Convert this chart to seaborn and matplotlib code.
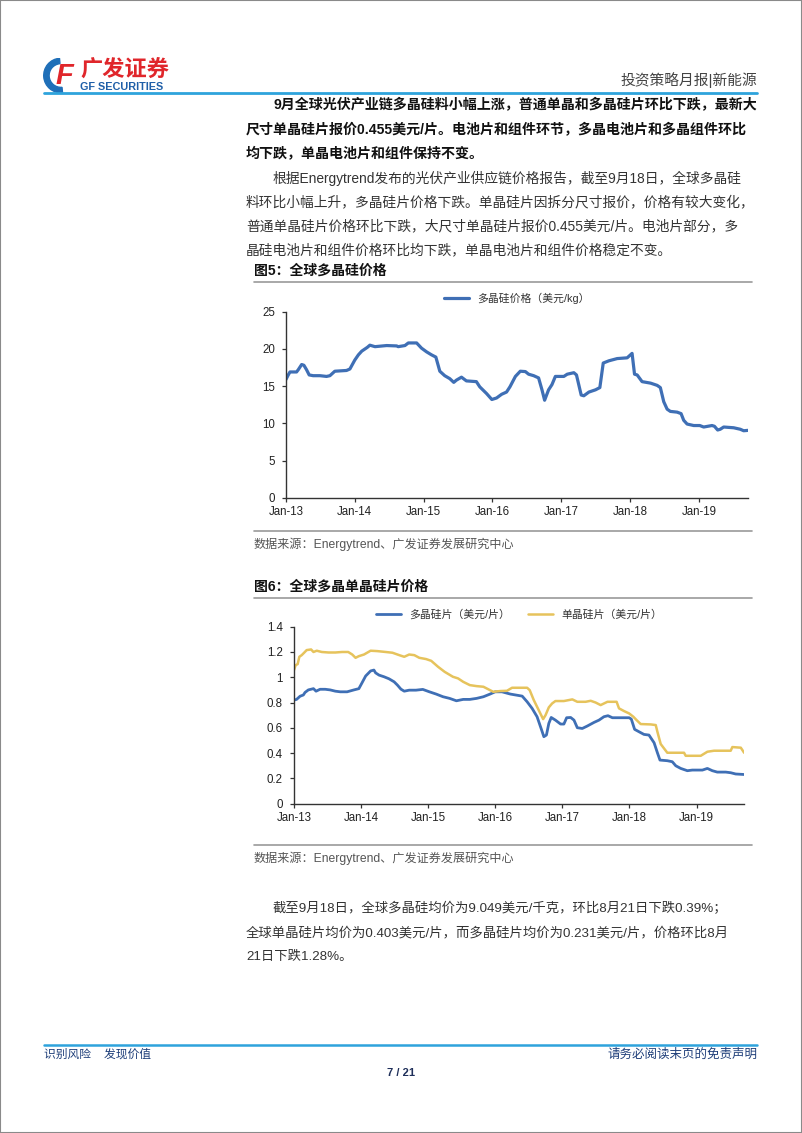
import pandas as pd
import matplotlib
matplotlib.use('Agg')
import matplotlib.pyplot as plt
import matplotlib.patches as mpatches
import seaborn as sns

# ---------- data read from the page ----------
poly_dates = ['2013-01-01', '2013-01-13', '2013-01-22', '2013-02-26', '2013-03-07', '2013-03-25',
              '2013-04-06', '2013-04-20', '2013-05-04', '2013-05-25', '2013-06-30', '2013-08-04',
              '2013-08-22', '2013-09-17', '2013-11-18', '2013-12-06', '2014-01-01', '2014-01-20',
              '2014-02-07', '2014-03-08', '2014-03-22', '2014-04-18', '2014-06-19', '2014-08-11',
              '2014-08-19', '2014-09-24', '2014-10-12', '2014-11-25', '2014-12-21', '2015-01-17',
              '2015-02-12', '2015-03-07', '2015-03-28', '2015-04-23', '2015-05-20', '2015-06-10',
              '2015-06-24', '2015-07-21', '2015-08-16', '2015-10-08', '2015-10-26', '2015-12-01',
              '2015-12-29', '2016-01-23', '2016-02-19', '2016-03-16', '2016-04-03', '2016-05-02',
              '2016-05-28', '2016-06-24', '2016-07-11', '2016-08-07', '2016-09-02', '2016-09-20',
              '2016-10-04', '2016-10-25', '2016-11-12', '2016-11-30', '2017-01-14', '2017-02-01',
              '2017-03-08', '2017-03-22', '2017-04-16', '2017-04-30', '2017-05-27', '2017-07-01',
              '2017-07-24', '2017-08-11', '2017-09-10', '2017-10-24', '2017-12-16', '2018-01-11',
              '2018-01-24', '2018-02-07', '2018-03-05', '2018-04-19', '2018-05-24', '2018-06-10',
              '2018-06-28', '2018-07-16', '2018-08-02', '2018-09-07', '2018-09-28', '2018-10-12',
              '2018-10-30', '2018-12-04', '2019-01-05', '2019-01-26', '2019-03-11', '2019-03-24',
              '2019-04-10', '2019-04-24', '2019-05-12', '2019-07-04', '2019-08-08', '2019-08-26',
              '2019-09-18']
poly_price = [15.9, 16.5, 16.9, 16.9, 17.2, 17.9, 17.8, 17.2, 16.5, 16.4, 16.4, 16.3,
              16.4, 17.0, 17.1, 17.3, 18.5, 19.2, 19.7, 20.2, 20.5, 20.3, 20.45, 20.4,
              20.3, 20.45, 20.8, 20.8, 20.1, 19.6, 19.2, 18.9, 17.0, 16.4, 16.0, 15.5,
              15.8, 16.2, 15.7, 15.6, 14.9, 14.0, 13.2, 13.4, 13.9, 14.2, 14.9, 16.3,
              17.0, 16.95, 16.6, 16.4, 16.1, 14.5, 13.1, 14.5, 15.2, 16.3, 16.3, 16.6,
              16.8, 16.5, 13.8, 13.7, 14.2, 14.5, 14.8, 18.1, 18.4, 18.7, 18.8, 19.4,
              16.6, 16.5, 15.6, 15.4, 15.1, 14.8, 12.9, 11.9, 11.6, 11.5, 11.3, 10.4,
              9.9, 9.7, 9.7, 9.5, 9.7, 9.6, 9.1, 9.2, 9.5, 9.4, 9.2, 9.0, 9.05]

multi_dates = ['2013-01-01', '2013-01-15', '2013-02-03', '2013-02-21', '2013-03-02', '2013-03-20',
               '2013-04-17', '2013-05-01', '2013-05-23', '2013-06-20', '2013-07-17', '2013-08-14',
               '2013-09-10', '2013-10-17', '2013-11-23', '2013-12-20', '2014-01-04', '2014-01-26',
               '2014-02-22', '2014-03-12', '2014-03-21', '2014-04-09', '2014-05-06', '2014-06-02',
               '2014-06-30', '2014-07-18', '2014-08-06', '2014-08-24', '2014-09-20', '2014-10-27',
               '2014-12-03', '2015-01-08', '2015-02-14', '2015-03-23', '2015-04-28', '2015-06-04',
               '2015-07-11', '2015-08-16', '2015-09-22', '2015-10-29', '2015-12-04', '2016-01-01',
               '2016-02-07', '2016-03-24', '2016-05-27', '2016-06-23', '2016-07-20', '2016-08-16',
               '2016-09-07', '2016-09-22', '2016-10-06', '2016-10-19', '2016-11-01', '2016-11-24',
               '2016-12-22', '2017-01-09', '2017-01-24', '2017-02-15', '2017-03-05', '2017-03-23',
               '2017-04-19', '2017-05-16', '2017-06-22', '2017-07-19', '2017-08-15', '2017-09-06',
               '2017-09-30', '2017-11-14', '2017-12-30', '2018-01-11', '2018-01-29', '2018-02-22',
               '2018-03-21', '2018-04-17', '2018-05-15', '2018-06-02', '2018-06-16', '2018-07-26',
               '2018-08-22', '2018-09-10', '2018-10-07', '2018-11-12', '2018-12-09', '2019-02-02',
               '2019-03-01', '2019-03-28', '2019-04-24', '2019-06-09', '2019-07-06', '2019-08-02',
               '2019-09-17']
multi_wafer = [0.82, 0.825, 0.85, 0.86, 0.88, 0.90, 0.91, 0.89, 0.905, 0.905, 0.90, 0.89,
               0.885, 0.885, 0.90, 0.91, 0.95, 1.01, 1.05, 1.057, 1.035, 1.017, 1.004, 0.988,
               0.964, 0.938, 0.906, 0.89, 0.898, 0.898, 0.904, 0.885, 0.867, 0.846, 0.833, 0.814,
               0.825, 0.825, 0.833, 0.846, 0.867, 0.885, 0.885, 0.867, 0.851, 0.806, 0.754, 0.688,
               0.595, 0.53, 0.543, 0.635, 0.682, 0.661, 0.63, 0.63, 0.68, 0.682, 0.661, 0.601,
               0.595, 0.614, 0.643, 0.661, 0.688, 0.696, 0.68, 0.68, 0.68, 0.669, 0.588, 0.569,
               0.548, 0.543, 0.482, 0.403, 0.345, 0.34, 0.332, 0.30, 0.279, 0.261, 0.266, 0.266,
               0.279, 0.261, 0.25, 0.25, 0.245, 0.235, 0.231]

mono_dates = ['2013-01-01', '2013-01-10', '2013-01-21', '2013-01-30', '2013-02-12', '2013-02-25',
              '2013-03-11', '2013-04-04', '2013-04-17', '2013-05-05', '2013-06-01', '2013-07-08',
              '2013-08-14', '2013-09-20', '2013-10-23', '2013-11-14', '2013-12-02', '2013-12-20',
              '2014-01-17', '2014-02-22', '2014-03-30', '2014-05-15', '2014-06-21', '2014-07-28',
              '2014-08-24', '2014-09-20', '2014-10-18', '2014-11-14', '2014-12-21', '2015-01-18',
              '2015-02-24', '2015-04-01', '2015-05-16', '2015-06-13', '2015-07-11', '2015-08-16',
              '2015-09-22', '2015-10-29', '2015-12-04', '2015-12-22', '2016-01-28', '2016-03-05',
              '2016-04-02', '2016-06-23', '2016-07-07', '2016-07-29', '2016-08-25', '2016-09-18',
              '2016-10-01', '2016-10-19', '2016-11-06', '2016-11-24', '2017-01-09', '2017-02-24',
              '2017-03-23', '2017-05-07', '2017-06-04', '2017-07-01', '2017-07-28', '2017-09-03',
              '2017-10-23', '2017-11-05', '2017-12-02', '2017-12-30', '2018-01-22', '2018-02-09',
              '2018-03-03', '2018-04-27', '2018-05-24', '2018-06-02', '2018-06-20', '2018-07-04',
              '2018-07-26', '2018-10-25', '2018-11-03', '2019-01-24', '2019-03-01', '2019-04-06',
              '2019-07-06', '2019-07-15', '2019-08-30', '2019-09-17']
mono_wafer = [1.057, 1.096, 1.104, 1.162, 1.175, 1.194, 1.215, 1.22, 1.20, 1.21, 1.20, 1.196,
              1.196, 1.20, 1.20, 1.18, 1.154, 1.167, 1.18, 1.21, 1.207, 1.20, 1.194, 1.175,
              1.162, 1.18, 1.175, 1.154, 1.144, 1.13, 1.083, 1.043, 1.004, 0.991, 0.964, 0.938,
              0.93, 0.925, 0.898, 0.885, 0.891, 0.893, 0.917, 0.917, 0.898, 0.82, 0.74, 0.669,
              0.70, 0.762, 0.793, 0.812, 0.812, 0.825, 0.806, 0.806, 0.814, 0.80, 0.78, 0.806,
              0.806, 0.754, 0.733, 0.714, 0.688, 0.661, 0.63, 0.627, 0.622, 0.569, 0.472, 0.445,
              0.403, 0.403, 0.379, 0.379, 0.411, 0.419, 0.419, 0.448, 0.443, 0.403]

year_ticks = ['2013-01-01', '2014-01-01', '2015-01-01', '2016-01-01',
              '2017-01-01', '2018-01-01', '2019-01-01']
year_labels = ['Jan-13', 'Jan-14', 'Jan-15', 'Jan-16', 'Jan-17', 'Jan-18', 'Jan-19']
y1_ticks = [0, 5, 10, 15, 20, 25]
y2_ticks = [0, 0.2, 0.4, 0.6, 0.8, 1.0, 1.2, 1.4]
y2_labels = ['0', '0.2', '0.4', '0.6', '0.8', '1', '1.2', '1.4']

para1 = ['9月全球光伏产业链多晶硅料小幅上涨，普通单晶和多晶硅片环比下跌，最新大',
         '尺寸单晶硅片报价0.455美元/片。电池片和组件环节，多晶电池片和多晶组件环比',
         '均下跌，单晶电池片和组件保持不变。']
para2 = ['根据Energytrend发布的光伏产业供应链价格报告，截至9月18日，全球多晶硅',
         '料环比小幅上升，多晶硅片价格下跌。单晶硅片因拆分尺寸报价，价格有较大变化，',
         '普通单晶硅片价格环比下跌，大尺寸单晶硅片报价0.455美元/片。电池片部分，多',
         '晶硅电池片和组件价格环比均下跌，单晶电池片和组件价格稳定不变。']
para3 = ['截至9月18日，全球多晶硅均价为9.049美元/千克，环比8月21日下跌0.39%；',
         '全球单晶硅片均价为0.403美元/片，而多晶硅片均价为0.231美元/片，价格环比8月',
         '21日下跌1.28%。']

# ---------- style ----------
sns.set_style('ticks')
plt.rcParams['font.family'] = ['Liberation Sans', 'Noto Sans CJK SC', 'DejaVu Sans']
plt.rcParams['axes.unicode_minus'] = False

W, H = 802, 1133
BLUE = '#3f6fb5'
GOLD = '#e6c35c'
TXT = '#333333'
fig = plt.figure(figsize=(W / 100, H / 100), dpi=100)


def fx(x):
    return x / W


def fy(y):
    return 1 - y / H


def hline(y, x0, x1, color, lw):
    fig.add_artist(plt.Line2D([fx(x0), fx(x1)], [fy(y), fy(y)], color=color, lw=lw))


# page frame
fig.add_artist(mpatches.Rectangle((0, 0), 1, 1, fill=False, edgecolor='#8a8a8a', lw=1.5,
                                  transform=fig.transFigure))

# ---------- header ----------
logo = fig.add_axes([fx(43), fy(94), fx(36), 37 / H])
logo.set_xlim(0, 1)
logo.set_ylim(0, 1)
logo.set_aspect('equal')
logo.axis('off')
logo.add_patch(mpatches.Wedge((0.5, 0.5), 0.48, 95, 275, width=0.15, color='#1f6fb8'))
logo.text(0.58, 0.48, 'F', color='#e0262b', fontsize=21, fontweight='bold', style='italic',
          ha='center', va='center')
fig.text(fx(80), fy(70), '广发证券', color='#e0262b', fontsize=16, fontweight='bold',
         ha='left', va='center', family=['Noto Sans CJK SC'])
fig.text(fx(80), fy(87), 'GF SECURITIES', color='#1f5fa8', fontsize=7.8, fontweight='bold',
         ha='left', va='center')
fig.text(fx(757), fy(80), '投资策略月报|新能源', color='#444444', fontsize=10.6,
         ha='right', va='center')
hline(93, 44, 757, '#2ea3dc', 2)

# ---------- paragraphs ----------
ys1 = [105, 130, 154]
for i, line in enumerate(para1):
    x0 = 273 if i == 0 else 246
    fig.text(fx(x0), fy(ys1[i]), line, fontsize=10.1, fontweight='bold', color='#111111',
             ha='left', va='center')

ys2 = [178, 202, 226, 250]
for i, line in enumerate(para2):
    x0 = 273 if i == 0 else 246
    fig.text(fx(x0), fy(ys2[i]), line, fontsize=9.9, color=TXT, ha='left', va='center')

# ---------- chart 1 ----------
fig.text(fx(254), fy(271), '图5：全球多晶硅价格', fontsize=10, fontweight='bold',
         color='#111111', ha='left', va='center')
hline(282, 254, 752, '#9a9a9a', 1.2)

ax1 = fig.add_axes([fx(286), fy(497.7), (748 - 286) / W, (497.7 - 311.7) / H])
sns.lineplot(x=pd.to_datetime(poly_dates), y=poly_price, ax=ax1, color=BLUE, linewidth=2.3,
             label='多晶硅价格（美元/kg）')
ax1.set_xlim(pd.Timestamp('2013-01-01'), pd.Timestamp('2019-09-18'))
ax1.set_ylim(0, 25)
ax1.set_yticks(y1_ticks)
ax1.set_yticklabels([str(v) for v in y1_ticks])

hline(531, 254, 752, '#9a9a9a', 1.2)
fig.text(fx(254), fy(544), '数据来源：Energytrend、广发证券发展研究中心', fontsize=8.7,
         color='#555555', ha='left', va='center')

# ---------- chart 2 ----------
fig.text(fx(254), fy(587), '图6：全球多晶单晶硅片价格', fontsize=10, fontweight='bold',
         color='#111111', ha='left', va='center')
hline(598, 254, 752, '#9a9a9a', 1.2)

ax2 = fig.add_axes([fx(294), fy(803.7), (744.3 - 294) / W, (803.7 - 626.7) / H])
sns.lineplot(x=pd.to_datetime(multi_dates), y=multi_wafer, ax=ax2, color=BLUE, linewidth=2.0,
             label='多晶硅片（美元/片）')
sns.lineplot(x=pd.to_datetime(mono_dates), y=mono_wafer, ax=ax2, color=GOLD, linewidth=1.8,
             label='单晶硅片（美元/片）')
ax2.set_xlim(pd.Timestamp('2013-01-01'), pd.Timestamp('2019-09-18'))
ax2.set_ylim(0, 1.4)
ax2.set_yticks(y2_ticks)
ax2.set_yticklabels(y2_labels)

hline(845, 254, 752, '#9a9a9a', 1.2)
fig.text(fx(254), fy(858), '数据来源：Energytrend、广发证券发展研究中心', fontsize=8.7,
         color='#555555', ha='left', va='center')

for ax in (ax1, ax2):
    ax.set_xticks(pd.to_datetime(year_ticks))
    ax.set_xticklabels(year_labels)
    ax.set_xlabel('')
    ax.set_ylabel('')
    ax.set_facecolor('none')
    sns.despine(ax=ax)
    for s in ('left', 'bottom'):
        ax.spines[s].set_color('#333333')
        ax.spines[s].set_linewidth(1.0)
    ax.tick_params(axis='both', direction='out', length=3, width=0.9, color='#333333',
                   labelsize=8.3, labelcolor='#222222', pad=3)
    ax.tick_params(axis='y', pad=5)

ax1.legend(loc='lower center', bbox_to_anchor=(0.5, 1.0), frameon=False, fontsize=7.8,
           handlelength=2.3, borderaxespad=0.3, labelcolor='#333333')
ax2.legend(loc='lower center', bbox_to_anchor=(0.5, 1.0), frameon=False, fontsize=7.8, ncol=2,
           handlelength=2.3, columnspacing=1.6, borderaxespad=0.2, labelcolor='#333333')

# ---------- closing paragraph ----------
ys3 = [909, 933, 957]
for i, line in enumerate(para3):
    x0 = 273 if i == 0 else 246
    fig.text(fx(x0), fy(ys3[i]), line, fontsize=9.6, color=TXT, ha='left', va='center')

# ---------- footer ----------
hline(1045, 44, 757, '#2ea3dc', 1.8)
fig.text(fx(44), fy(1055), '识别风险    发现价值', fontsize=8.5, color='#1f3f7a',
         ha='left', va='center')
fig.text(fx(757), fy(1055), '请务必阅读末页的免责声明', fontsize=9, color='#1f3f7a',
         ha='right', va='center')
fig.text(fx(401), fy(1073), '7 / 21', fontsize=8, fontweight='bold', color='#1f2f5a',
         ha='center', va='center')

fig.savefig('out.png', dpi=100)
